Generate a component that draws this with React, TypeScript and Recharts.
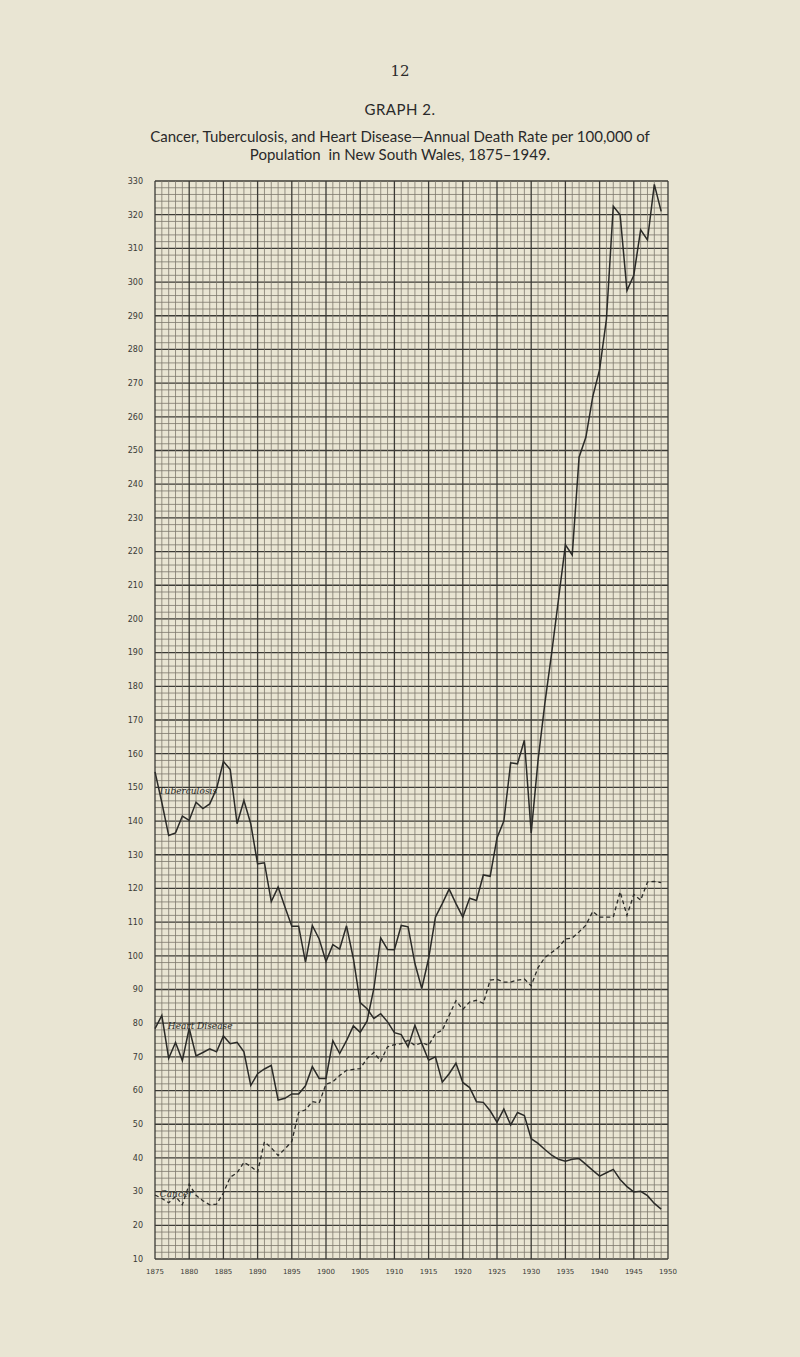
import { LineChart, Line, XAxis, YAxis, ReferenceLine, ReferenceDot } from 'recharts';

// Years 1875-1949, one reading per year
const years = [
  1875, 1876, 1877, 1878, 1879, 1880, 1881, 1882, 1883, 1884,
  1885, 1886, 1887, 1888, 1889, 1890, 1891, 1892, 1893, 1894,
  1895, 1896, 1897, 1898, 1899, 1900, 1901, 1902, 1903, 1904,
  1905, 1906, 1907, 1908, 1909, 1910, 1911, 1912, 1913, 1914,
  1915, 1916, 1917, 1918, 1919, 1920, 1921, 1922, 1923, 1924,
  1925, 1926, 1927, 1928, 1929, 1930, 1931, 1932, 1933, 1934,
  1935, 1936, 1937, 1938, 1939, 1940, 1941, 1942, 1943, 1944,
  1945, 1946, 1947, 1948, 1949,
];

const tuberculosis = [
  154.6, 145.5, 135.7, 136.5, 141.5, 140.2, 145.6, 143.7, 145.1, 149.6,
  157.7, 155.3, 139.2, 146.1, 139.2, 127.3, 127.6, 116.1, 120.4, 114.5,
  108.8, 108.8, 98.1, 109, 105, 98.3, 103.3, 102, 108.9, 99.2,
  86.1, 84.3, 81.4, 82.8, 80.4, 77.2, 76.6, 73, 79.4, 74,
  69, 70, 62.5, 65, 68.1, 62.4, 60.9, 56.7, 56.5, 54,
  50.6, 54.5, 49.8, 53.5, 52.6, 45.7, 44.3, 42.5, 40.8, 39.6,
  39, 39.6, 39.8, 38.1, 36.3, 34.6, 35.6, 36.6, 33.6, 31.5,
  29.9, 30.1, 28.8, 26.5, 24.8,
];

const heartDisease = [
  78.4, 82.3, 69.6, 74.3, 68.9, 78.5, 70.3, 71.3, 72.4, 71.5,
  76.2, 73.9, 74.3, 71.5, 61.5, 65, 66.4, 67.5, 57.2, 57.7,
  59, 59, 61.4, 67.1, 63.6, 63.6, 74.8, 71, 74.8, 79.2,
  77.3, 80.6, 90.3, 105.3, 101.9, 101.8, 109, 108.6, 97.7, 90.3,
  99.2, 111.5, 115.5, 119.8, 115.5, 111.5, 117.1, 116.4, 124, 123.6,
  135, 140, 157.3, 157, 164, 136.5, 158, 175, 190, 206,
  222, 219, 248, 254, 266, 274, 289, 322.5, 320, 297.5,
  302, 315.5, 312.5, 329, 321,
];

const cancer = [
  29, 28, 26.7, 28.6, 26.1, 32.2, 28.9, 27.3, 26.1, 26.3,
  29.6, 34.3, 35.6, 38.7, 37.5, 35.8, 44.8, 43, 40.7, 42.7,
  44.9, 53.5, 54.3, 56.7, 56.3, 61.9, 62.6, 64.5, 66, 66.3,
  66.5, 69.5, 71.3, 68.7, 73, 73.6, 73.9, 74.9, 73.4, 74.2,
  73.4, 76.9, 77.9, 82.3, 86.7, 84.1, 86.3, 86.8, 85.9, 92.8,
  93, 92.2, 92.2, 92.8, 93.1, 91.1, 96.5, 99.5, 101, 102.5,
  105, 105.3, 107.1, 109.1, 113.2, 111.5, 111.5, 111.5, 119, 112,
  118.2, 116.5, 121.9, 122.1, 121.7,
];

const xTicks = [1875, 1880, 1885, 1890, 1895, 1900, 1905, 1910, 1915, 1920, 1925, 1930, 1935, 1940, 1945, 1950];
const yTicks = [10, 20, 30, 40, 50, 60, 70, 80, 90, 100, 110, 120, 130, 140, 150, 160, 170, 180, 190, 200,
  210, 220, 230, 240, 250, 260, 270, 280, 290, 300, 310, 320, 330];

// graph paper rulings: every year, every 2 units
const gridYears = Array.from({ length: 76 }, (_, i) => 1875 + i);
const gridValues = Array.from({ length: 161 }, (_, i) => 10 + i * 2);

const data = years.map((y, i) => ({
  year: y,
  tb: tuberculosis[i],
  heart: heartDisease[i],
  cancer: cancer[i],
}));

const PAPER = '#e9e5d3';
const INK = '#2b2b28';

export default function App() {
  return (
    <div style={{ position: 'relative', width: 800, height: 1357, background: PAPER, fontFamily: 'Lato, "Open Sans", sans-serif', color: '#2a2a2a' }}>
      <style>{`body{margin:0;background:${PAPER};}`}</style>
      <div style={{ position: 'absolute', top: 62, left: 0, width: 800, textAlign: 'center', fontSize: 15, fontFamily: '"DejaVu Serif", serif' }}>12</div>
      <div style={{ position: 'absolute', top: 100, left: 0, width: 800, textAlign: 'center', fontSize: 15, letterSpacing: 0.5 }}>GRAPH 2.</div>
      <div style={{ position: 'absolute', top: 127, left: 0, width: 800, textAlign: 'center', fontSize: 15, lineHeight: '18px' }}>
        Cancer, Tuberculosis, and Heart Disease—Annual Death Rate per 100,000 of<br />
        Population &nbsp;in New South Wales, 1875–1949.
      </div>
      <div style={{ position: 'absolute', top: 0, left: 0 }}>
        <LineChart width={800} height={1357} data={data} margin={{ top: 181, right: 132, bottom: 76, left: 125 }}>
          <XAxis
            dataKey="year"
            type="number"
            domain={[1875, 1950]}
            ticks={xTicks}
            interval={0}
            height={22}
            axisLine={false}
            tickLine={false}
            tickMargin={4}
            tick={{ fontSize: 7, fill: '#3a3a36', fontFamily: '"DejaVu Sans", sans-serif' }}
          />
          <YAxis
            type="number"
            domain={[10, 330]}
            ticks={yTicks}
            interval={0}
            width={30}
            axisLine={false}
            tickLine={false}
            tickMargin={6}
            tick={{ fontSize: 8, fill: '#3a3a36', fontFamily: '"DejaVu Sans", sans-serif' }}
          />
          {gridValues.map(v => (
            <ReferenceLine
              key={'h' + v}
              y={v}
              stroke={v % 10 === 0 ? '#3c3b36' : '#7d796d'}
              strokeWidth={v % 10 === 0 ? 1.3 : 0.8}
            />
          ))}
          {gridYears.map(y => (
            <ReferenceLine
              key={'v' + y}
              x={y}
              stroke={y % 5 === 0 ? '#3c3b36' : '#7d796d'}
              strokeWidth={y % 5 === 0 ? 1.3 : 0.8}
            />
          ))}
          <Line dataKey="tb" stroke={INK} strokeWidth={1.5} dot={false} isAnimationActive={false} />
          <Line dataKey="heart" stroke={INK} strokeWidth={1.5} dot={false} isAnimationActive={false} />
          <Line dataKey="cancer" stroke={INK} strokeWidth={1.3} strokeDasharray="4 3" dot={false} isAnimationActive={false} />
          <ReferenceDot x={1879.8} y={149} r={0} fill="none" stroke="none"
            label={{ value: 'Tuberculosis', fontSize: 9, fontStyle: 'italic', fill: INK, fontFamily: '"DejaVu Serif", serif' }} />
          <ReferenceDot x={1881.6} y={79.3} r={0} fill="none" stroke="none"
            label={{ value: 'Heart Disease', fontSize: 9, fontStyle: 'italic', fill: INK, fontFamily: '"DejaVu Serif", serif' }} />
          <ReferenceDot x={1878.1} y={29.5} r={0} fill="none" stroke="none"
            label={{ value: 'Cancer', fontSize: 9, fontStyle: 'italic', fill: INK, fontFamily: '"DejaVu Serif", serif' }} />
        </LineChart>
      </div>
    </div>
  );
}
